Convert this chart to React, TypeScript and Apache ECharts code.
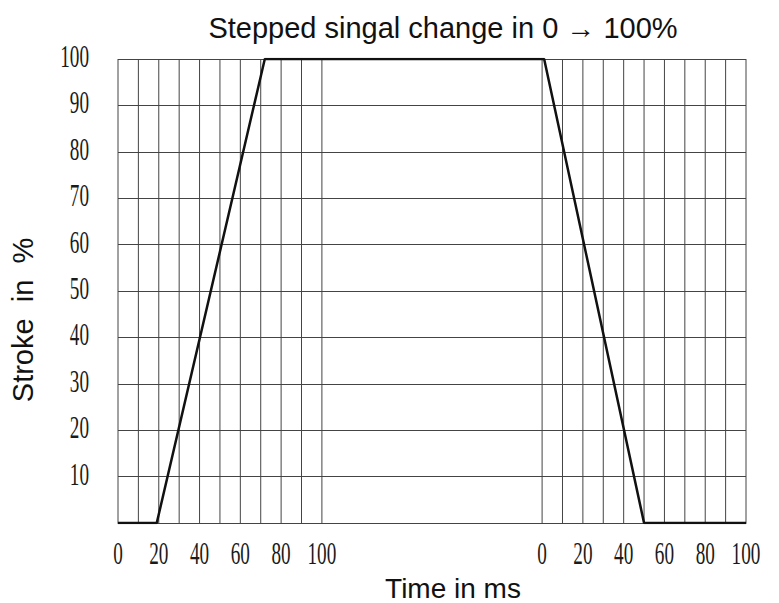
import React, { useEffect, useRef } from "react";
import * as echarts from "echarts";

// Axis position (in axis units) where the second segment's 0 ms starts
const SEGMENT_OFFSET = 208;
const AXIS_MAX = 308;

// Vertical grid positions within each segment (ms)
const GRID_MS = [0, 10, 20, 30, 40, 50, 60, 70, 80, 90, 100];
// X tick labels within each segment (ms)
const TICK_MS = [0, 20, 40, 60, 80, 100];
// Y tick labels (%)
const TICK_PCT = [10, 20, 30, 40, 50, 60, 70, 80, 90, 100];

// Rising edge segment: time (ms) and stroke (%)
const RISE_MS = [0, 19, 72, 100];
const RISE_PCT = [0, 0, 100, 100];
// Falling edge segment: time (ms) and stroke (%)
const FALL_MS = [0, 1, 50, 100];
const FALL_PCT = [100, 100, 0, 0];

const TITLE = "Stepped singal change in 0 \u2192 100%";
const X_NAME = "Time in ms";
const Y_NAME = "Stroke  in  %";

const SERIF = "'Liberation Serif', 'DejaVu Serif', serif";
const SANS = "'Liberation Sans', Arial, sans-serif";

export default function App() {
  const ref = useRef<HTMLDivElement>(null);

  useEffect(() => {
    if (!ref.current) return;
    const chart = echarts.init(ref.current, undefined, { renderer: "svg" });

    const lineData: number[][] = [
      ...RISE_MS.map((t, i) => [t, RISE_PCT[i]]),
      ...FALL_MS.map((t, i) => [t + SEGMENT_OFFSET, FALL_PCT[i]]),
    ];
    const gridData: number[][] = [
      ...GRID_MS.map((t) => [t, 0]),
      ...GRID_MS.map((t) => [t + SEGMENT_OFFSET, 0]),
    ];

    chart.setOption({
      animation: false,
      backgroundColor: "#ffffff",
      grid: { left: 118, right: 33, top: 59, bottom: 80, containLabel: false },
      xAxis: {
        type: "value",
        min: 0,
        max: AXIS_MAX,
        axisLine: { show: true, lineStyle: { color: "#444", width: 1 } },
        axisTick: { show: false },
        splitLine: { show: false },
        axisLabel: { show: false },
      },
      yAxis: {
        type: "value",
        min: 0,
        max: 100,
        interval: 10,
        axisLine: { show: false },
        axisTick: { show: false },
        splitLine: { show: true, lineStyle: { color: "#444", width: 1 } },
        axisLabel: { show: false },
      },
      series: [
        {
          type: "custom",
          silent: true,
          z: 1,
          data: gridData,
          encode: { x: 0, y: 1 },
          renderItem: (_params: any, api: any) => {
            const x = api.value(0);
            const p0 = api.coord([x, 0]);
            const p1 = api.coord([x, 100]);
            return {
              type: "line",
              shape: { x1: p0[0], y1: p0[1], x2: p1[0], y2: p1[1] },
              style: { stroke: "#444", lineWidth: 1 },
            };
          },
        },
        {
          type: "line",
          z: 3,
          data: lineData,
          symbol: "none",
          lineStyle: { color: "#111", width: 2.5 },
        },
      ],
    });

    // Narrow tick labels positioned through the chart's own axes
    const labelFont = `32px ${SERIF}`;
    const toPx = (x: number, y: number) =>
      chart.convertToPixel({ xAxisIndex: 0, yAxisIndex: 0 }, [x, y]) as number[];

    const xLabels: any[] = [];
    [0, SEGMENT_OFFSET].forEach((off) => {
      TICK_MS.forEach((t) => {
        const p = toPx(t + off, 0);
        xLabels.push({
          type: "text",
          x: p[0],
          y: p[1] + 30,
          scaleX: 0.6,
          style: {
            text: String(t),
            font: labelFont,
            fill: "#1a1a1a",
            textAlign: "center",
            textVerticalAlign: "middle",
          },
        });
      });
    });
    const yLabels: any[] = TICK_PCT.map((v) => {
      const p = toPx(0, v);
      return {
        type: "text",
        x: 89,
        y: p[1] - 3,
        scaleX: 0.6,
        style: {
          text: String(v),
          font: labelFont,
          fill: "#1a1a1a",
          textAlign: "right",
          textVerticalAlign: "middle",
        },
      };
    });

    chart.setOption({
      graphic: [
        {
          type: "text",
          x: 443,
          y: 28,
          style: {
            text: TITLE,
            font: `29px ${SANS}`,
            fill: "#111",
            textAlign: "center",
            textVerticalAlign: "middle",
          },
        },
        {
          type: "text",
          x: 453,
          y: 588,
          style: {
            text: X_NAME,
            font: `28px ${SANS}`,
            fill: "#111",
            textAlign: "center",
            textVerticalAlign: "middle",
          },
        },
        {
          type: "text",
          x: 23,
          y: 320,
          rotation: Math.PI / 2,
          style: {
            text: Y_NAME,
            font: `29px ${SANS}`,
            fill: "#111",
            textAlign: "center",
            textVerticalAlign: "middle",
          },
        },
        ...xLabels,
        ...yLabels,
      ],
    });

    return () => chart.dispose();
  }, []);

  return (
    <div
      ref={ref}
      style={{ position: "fixed", left: 0, top: 0, width: 779, height: 603 }}
    />
  );
}
